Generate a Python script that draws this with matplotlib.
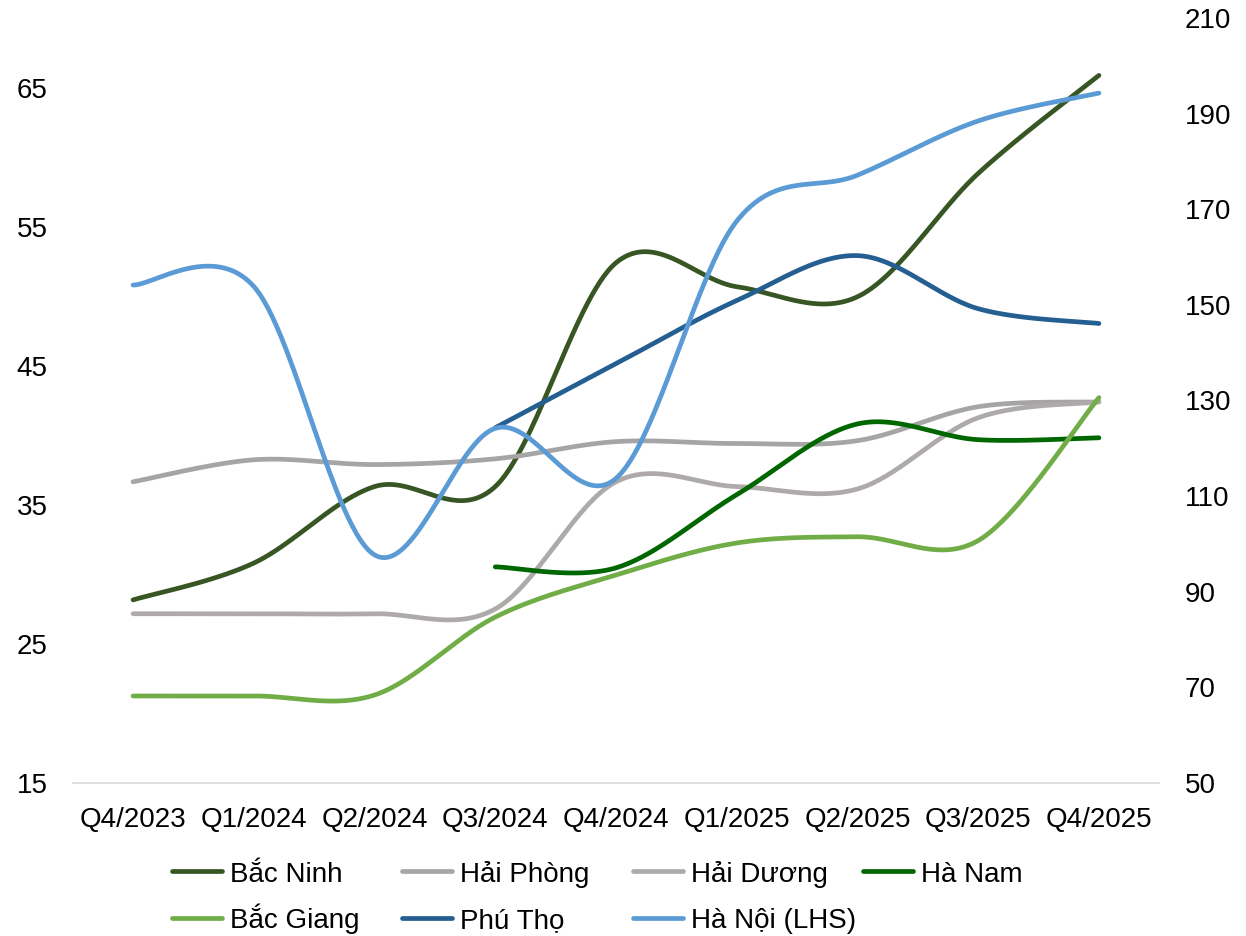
import numpy as np
import matplotlib
matplotlib.use("Agg")
import matplotlib.pyplot as plt
from matplotlib.lines import Line2D

plt.rcParams['font.family'] = ['Liberation Sans', 'DejaVu Sans']

# Quarterly categories
quarters = ["Q4/2023", "Q1/2024", "Q2/2024", "Q3/2024", "Q4/2024",
            "Q1/2025", "Q2/2025", "Q3/2025", "Q4/2025"]

# Right-hand axis series
bac_ninh = [88.3, 96.0, 112.0, 112.0, 158.8, 153.8, 151.7, 177.5, 198.0]
hai_phong = [113.0, 117.6, 116.6, 117.8, 121.4, 121.0, 121.6, 128.7, 129.7]
hai_duong = [85.4, 85.4, 85.4, 86.4, 113.0, 112.0, 111.5, 126.4, 129.7]
ha_nam = [None, None, None, 95.2, 95.0, 110.3, 125.1, 121.8, 122.2]
bac_giang = [68.2, 68.2, 68.4, 84.7, 93.5, 100.2, 101.5, 100.7, 130.6]
phu_tho = [None, None, None, 124.3, 137.7, 150.9, 160.3, 149.2, 146.1]

# Left-hand axis series
ha_noi = [50.8, 50.7, 31.4, 40.5, 36.9, 55.4, 58.7, 62.6, 64.6]

left_ticks = [15, 25, 35, 45, 55, 65]
right_ticks = [50, 70, 90, 110, 130, 150, 170, 190, 210]

names = ["Bắc Ninh", "Hải Phòng", "Hải Dương", "Hà Nam",
         "Bắc Giang", "Phú Thọ", "Hà Nội (LHS)"]
colors = ["#375623", "#A5A5A5", "#AEAAAA", "#006600",
          "#70AD47", "#255E91", "#5B9BD5"]


def smooth(values, n=60):
    """Piecewise cubic Bezier through the points (Catmull-Rom style tangents)."""
    pts = [(i, v) for i, v in enumerate(values) if v is not None]
    px = np.array([p[0] for p in pts], float)
    py = np.array([p[1] for p in pts], float)
    xs, ys = [px[0]], [py[0]]
    t = np.linspace(0, 1, n)[1:]
    for i in range(len(px) - 1):
        a = i - 1 if i > 0 else i
        b = i + 2 if i + 2 < len(px) else i + 1
        c1x = px[i] + (px[i + 1] - px[a]) / 6
        c1y = py[i] + (py[i + 1] - py[a]) / 6
        c2x = px[i + 1] - (px[b] - px[i]) / 6
        c2y = py[i + 1] - (py[b] - py[i]) / 6
        bx = ((1 - t) ** 3 * px[i] + 3 * (1 - t) ** 2 * t * c1x
              + 3 * (1 - t) * t ** 2 * c2x + t ** 3 * px[i + 1])
        by = ((1 - t) ** 3 * py[i] + 3 * (1 - t) ** 2 * t * c1y
              + 3 * (1 - t) * t ** 2 * c2y + t ** 3 * py[i + 1])
        xs.extend(bx)
        ys.extend(by)
    return np.array(xs), np.array(ys)


W, H = 1246, 936
fig = plt.figure(figsize=(W / 100, H / 100), dpi=100)
left_px, right_px, top_px, bottom_px = 72.7, 1159.3, 18.0, 783.0
ax = fig.add_axes([left_px / W, 1 - bottom_px / H,
                   (right_px - left_px) / W, (bottom_px - top_px) / H])
ax_l = ax.twinx()

lw = 3.4
series_r = [bac_ninh, hai_phong, hai_duong, ha_nam, bac_giang, phu_tho]
for vals, c in zip(series_r, colors[:6]):
    sx, sy = smooth(vals)
    ax.plot(sx, sy, color=c, lw=lw, solid_capstyle='round', solid_joinstyle='round')
sx, sy = smooth(ha_noi)
ax_l.plot(sx, sy, color=colors[6], lw=lw, solid_capstyle='round', solid_joinstyle='round')

ax.set_xlim(-0.5, len(quarters) - 0.5)
ax.set_ylim(50, 210)
ax_l.set_ylim(15, 70)

ax.set_xticks(range(len(quarters)))
ax.set_xticklabels(quarters)
ax.set_yticks(right_ticks)
ax_l.set_yticks(left_ticks)

ax.yaxis.tick_right()
ax_l.yaxis.tick_left()

fs = 20
ax.tick_params(axis='x', length=0, pad=17, labelsize=fs, colors='black')
ax.tick_params(axis='y', length=0, pad=18.5, labelsize=fs, colors='black')
ax_l.tick_params(axis='y', length=0, pad=18, labelsize=fs, colors='black')

for a in (ax, ax_l):
    for s in ("top", "left", "right"):
        a.spines[s].set_visible(False)
    a.spines["bottom"].set_visible(False)
ax.spines["bottom"].set_visible(True)
ax.spines["bottom"].set_color("#D9D9D9")
ax.spines["bottom"].set_linewidth(1.2)

# Legend laid out in fixed-width columns, filled row by row
col_x = [169.3, 400.0, 630.7, 861.0]
row_y = [871.0, 917.7]
handle_len = 54.7
text_gap = 60.3
for k, (name, c) in enumerate(zip(names, colors)):
    r, col = divmod(k, 4)
    x0 = col_x[col]
    y = row_y[r]
    fig.add_artist(Line2D([(x0 + 2.3) / W, (x0 + handle_len - 2.3) / W],
                          [1 - y / H, 1 - y / H], transform=fig.transFigure,
                          color=c, lw=lw, solid_capstyle='round'))
    fig.text((x0 + text_gap) / W, 1 - (y + 10.6) / H, name, fontsize=fs,
             va='baseline', ha='left', color='black')

fig.savefig("out.png", dpi=100)
